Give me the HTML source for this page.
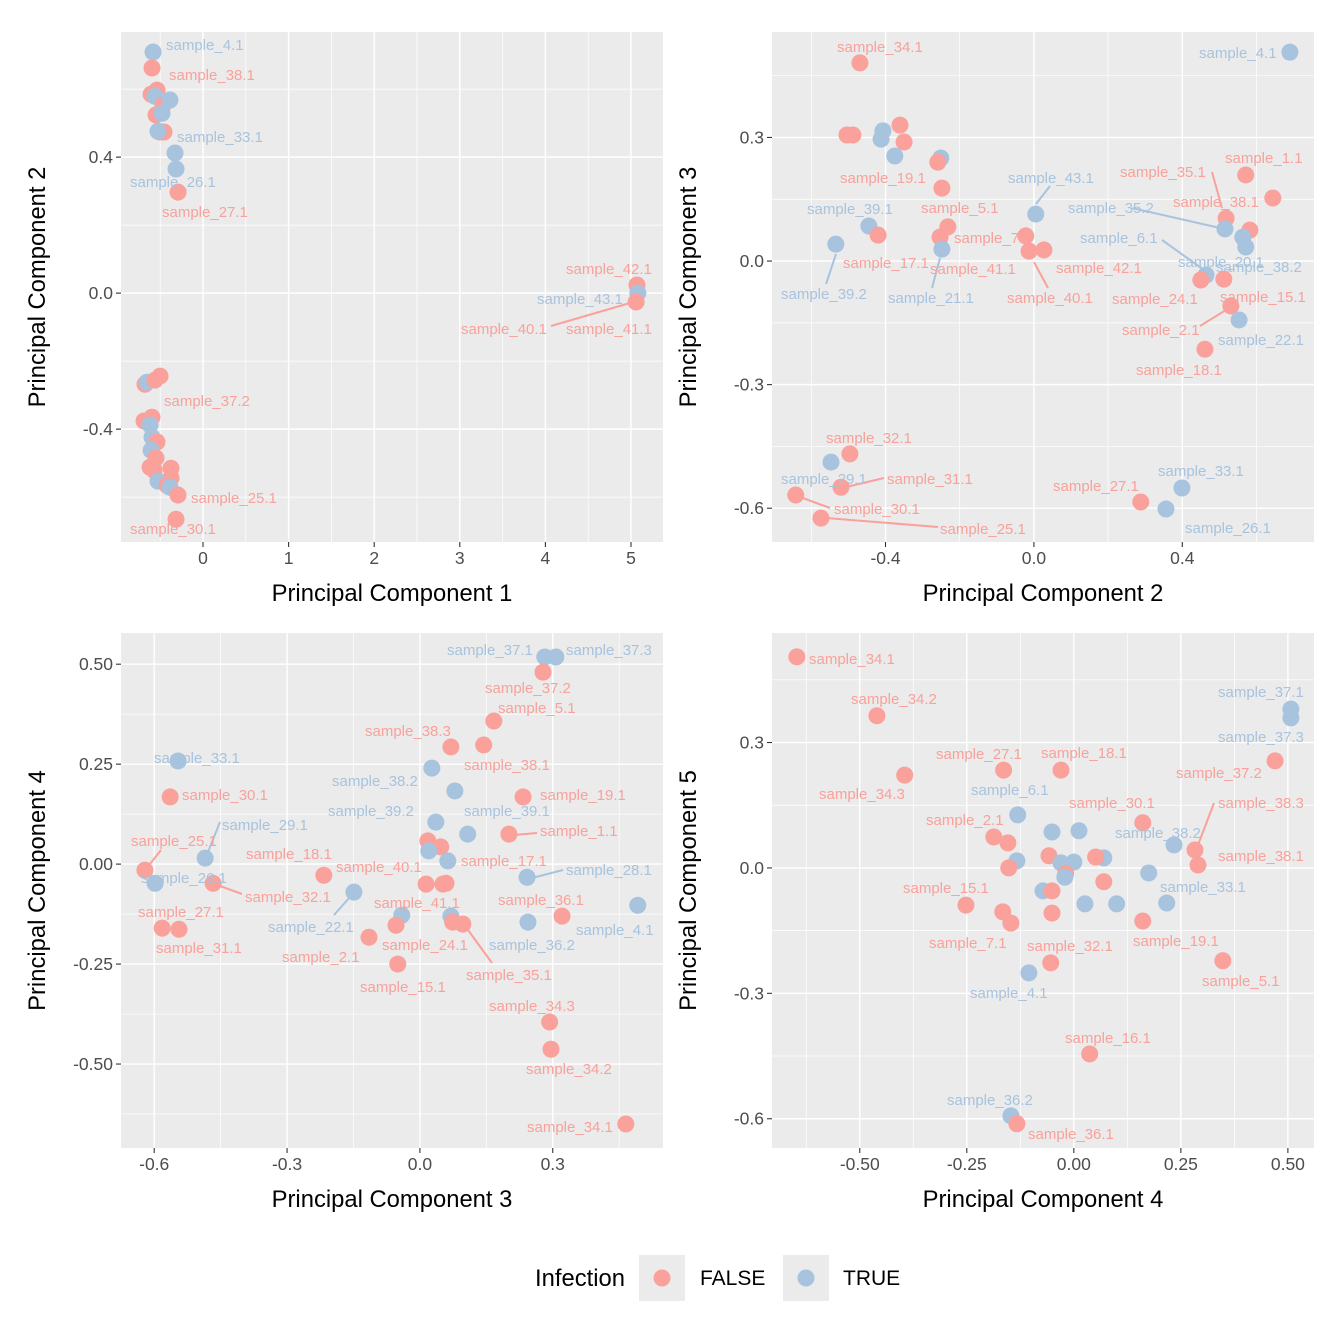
<!DOCTYPE html>
<html><head><meta charset="utf-8">
<style>
body{margin:0;background:#fff;}
svg{display:block;font-family:"Liberation Sans",Arial,sans-serif;}
</style></head>
<body>
<svg id="chart" width="1344" height="1344" viewBox="0 0 1344 1344"></svg>
<script>
// ---------- DATA (F = infection FALSE, T = TRUE) ----------
const p1x=[-0.584,-0.596,-0.607,-0.537,-0.561,-0.467,-0.386,-0.549,-0.479,-0.502,-0.456,-0.526,-0.327,-0.315,-0.292,5.07,5.08,5.06,-0.678,-0.654,-0.561,-0.502,-0.689,-0.596,-0.619,-0.596,-0.537,-0.607,-0.549,-0.619,-0.572,-0.374,-0.374,-0.526,-0.421,-0.386,-0.292,-0.315];
const p1y=[0.709,0.662,0.585,0.597,0.579,0.553,0.568,0.524,0.529,0.474,0.474,0.476,0.412,0.365,0.297,0.024,0.0,-0.026,-0.268,-0.262,-0.256,-0.244,-0.376,-0.365,-0.388,-0.424,-0.438,-0.462,-0.485,-0.512,-0.521,-0.515,-0.544,-0.553,-0.565,-0.571,-0.594,-0.665];
const p1g=['T','F','F','F','T','F','T','F','T','F','F','T','T','T','F','F','T','F','F','T','F','F','F','F','T','T','F','T','F','F','F','F','F','T','F','T','F','F'];
const p1labels=[['sample_4.1',166,45,'T'],['sample_38.1',169,75,'F'],['sample_33.1',177,137,'T'],['sample_26.1',130,182,'T'],['sample_27.1',162,212,'F'],['sample_42.1',566,269,'F'],['sample_43.1',537,299,'T'],['sample_40.1',461,329,'F'],['sample_41.1',566,329,'F'],['sample_37.2',164,401,'F'],['sample_25.1',191,498,'F'],['sample_30.1',130,529,'F']];
const p1lines=[[551,326,630,303,'F']];

const p2x=[-0.469,0.690,-0.504,-0.488,-0.407,-0.412,-0.361,-0.350,-0.375,-0.251,-0.259,-0.248,-0.232,-0.253,-0.445,-0.420,-0.534,-0.248,0.005,-0.022,-0.013,0.027,0.571,0.644,0.518,0.515,0.582,0.563,0.571,0.464,0.450,0.512,0.531,0.553,0.461,-0.496,-0.547,-0.520,-0.642,-0.574,0.288,0.399,0.356];
const p2y=[0.481,0.507,0.306,0.306,0.316,0.296,0.330,0.289,0.255,0.250,0.240,0.177,0.083,0.058,0.085,0.063,0.041,0.029,0.114,0.061,0.024,0.027,0.209,0.153,0.104,0.078,0.075,0.058,0.034,-0.034,-0.046,-0.044,-0.109,-0.143,-0.214,-0.468,-0.488,-0.549,-0.568,-0.624,-0.585,-0.551,-0.602];
const p2g=['F','T','F','F','T','T','F','F','T','T','F','F','F','F','T','F','T','T','T','F','F','F','F','F','F','T','F','T','T','T','F','F','F','T','F','F','T','F','F','F','F','T','T'];
const p2labels=[['sample_34.1',837,47,'F'],['sample_4.1',1199,53,'T'],['sample_19.1',840,178,'F'],['sample_5.1',921,208,'F'],['sample_39.1',807,209,'T'],['sample_17.1',843,263,'F'],['sample_39.2',781,294,'T'],['sample_21.1',888,298,'T'],['sample_7.1',954,238,'F'],['sample_41.1',930,269,'F'],['sample_43.1',1008,178,'T'],['sample_42.1',1056,268,'F'],['sample_40.1',1007,298,'F'],['sample_1.1',1225,158,'F'],['sample_35.1',1120,172,'F'],['sample_38.1',1173,202,'F'],['sample_35.2',1068,208,'T'],['sample_6.1',1080,238,'T'],['sample_20.1',1178,262,'T'],['sample_38.2',1216,267,'T'],['sample_24.1',1112,299,'F'],['sample_15.1',1220,297,'F'],['sample_2.1',1122,330,'F'],['sample_22.1',1218,340,'T'],['sample_18.1',1136,370,'F'],['sample_32.1',826,438,'F'],['sample_29.1',781,479,'T'],['sample_31.1',887,479,'F'],['sample_30.1',834,509,'F'],['sample_25.1',940,529,'F'],['sample_27.1',1053,486,'F'],['sample_33.1',1158,471,'T'],['sample_26.1',1185,528,'T']];
const p2lines=[[826,284,836,254,'T'],[932,288,940,258,'T'],[1036,204,1050,186,'T'],[1048,288,1034,262,'F'],[1212,172,1222,208,'F'],[1132,208,1220,228,'T'],[1162,240,1204,270,'T'],[1200,326,1226,310,'F'],[884,478,842,488,'F'],[830,508,800,497,'F'],[938,527,826,518,'F']];

const p3x=[0.282,0.307,0.278,0.167,0.070,0.144,0.027,0.079,0.233,0.036,0.108,0.201,0.018,0.047,0.020,0.063,0.014,0.052,0.059,0.242,0.321,0.244,0.492,0.070,0.074,0.097,-0.041,-0.054,-0.115,-0.050,-0.149,-0.217,-0.546,-0.564,-0.485,-0.621,-0.598,-0.467,-0.582,-0.544,0.293,0.296,0.465];
const p3y=[0.518,0.518,0.480,0.358,0.293,0.298,0.240,0.183,0.168,0.105,0.075,0.075,0.058,0.043,0.033,0.008,-0.050,-0.050,-0.048,-0.033,-0.130,-0.145,-0.103,-0.130,-0.145,-0.150,-0.128,-0.153,-0.183,-0.250,-0.070,-0.028,0.258,0.168,0.015,-0.015,-0.048,-0.048,-0.160,-0.163,-0.395,-0.463,-0.650];
const p3g=['T','T','F','F','F','F','T','T','F','T','T','F','F','F','T','T','F','F','F','T','F','T','T','T','F','F','T','F','F','F','T','F','T','F','T','F','T','F','F','F','F','F','F'];
const p3labels=[['sample_37.1',447,650,'T'],['sample_37.3',566,650,'T'],['sample_37.2',485,688,'F'],['sample_5.1',498,708,'F'],['sample_38.3',365,731,'F'],['sample_38.1',464,765,'F'],['sample_38.2',332,781,'T'],['sample_39.1',464,811,'T'],['sample_19.1',540,795,'F'],['sample_39.2',328,811,'T'],['sample_1.1',540,831,'F'],['sample_17.1',461,861,'F'],['sample_40.1',336,867,'F'],['sample_41.1',374,903,'F'],['sample_28.1',566,870,'T'],['sample_36.1',498,900,'F'],['sample_36.2',489,945,'T'],['sample_4.1',576,930,'T'],['sample_35.1',466,975,'F'],['sample_24.1',382,945,'F'],['sample_2.1',282,957,'F'],['sample_15.1',360,987,'F'],['sample_22.1',268,927,'T'],['sample_18.1',246,854,'F'],['sample_33.1',154,758,'T'],['sample_30.1',182,795,'F'],['sample_29.1',222,825,'T'],['sample_25.1',131,841,'F'],['sample_26.1',141,878,'T'],['sample_32.1',245,897,'F'],['sample_27.1',138,912,'F'],['sample_31.1',156,948,'F'],['sample_34.3',489,1006,'F'],['sample_34.2',526,1069,'F'],['sample_34.1',527,1127,'F']];
const p3lines=[[537,833,514,835,'F'],[563,870,532,878,'T'],[492,963,468,930,'F'],[334,915,350,897,'T'],[220,822,208,852,'T'],[161,850,150,864,'F'],[242,894,220,886,'F']];

const p4x=[-0.647,-0.460,-0.395,0.507,0.507,0.470,-0.164,-0.030,-0.131,0.161,-0.187,-0.154,-0.051,0.012,0.234,0.283,0.290,0.070,0.051,-0.133,-0.152,-0.058,-0.030,0.0,-0.019,0.175,0.070,-0.021,-0.072,-0.051,-0.252,0.026,0.100,-0.166,-0.147,-0.051,0.217,0.161,-0.054,0.348,-0.105,0.037,-0.147,-0.133];
const p4y=[0.505,0.364,0.222,0.380,0.359,0.256,0.234,0.234,0.127,0.108,0.074,0.060,0.086,0.089,0.055,0.043,0.007,0.024,0.026,0.017,0.0,0.029,0.012,0.014,-0.014,-0.012,-0.033,-0.022,-0.055,-0.055,-0.089,-0.086,-0.086,-0.105,-0.132,-0.108,-0.084,-0.127,-0.227,-0.222,-0.251,-0.445,-0.593,-0.612];
const p4g=['F','F','F','T','T','F','F','F','T','F','F','F','T','T','T','F','F','T','F','T','F','F','T','T','F','T','F','T','T','F','F','T','T','F','F','F','T','F','F','F','T','F','T','F'];
const p4labels=[['sample_34.1',809,659,'F'],['sample_34.2',851,699,'F'],['sample_34.3',819,794,'F'],['sample_37.1',1218,692,'T'],['sample_37.3',1218,737,'T'],['sample_37.2',1176,773,'F'],['sample_38.3',1218,803,'F'],['sample_27.1',936,754,'F'],['sample_18.1',1041,753,'F'],['sample_6.1',971,790,'T'],['sample_30.1',1069,803,'F'],['sample_2.1',926,820,'F'],['sample_38.2',1115,833,'T'],['sample_38.1',1218,856,'F'],['sample_33.1',1160,887,'T'],['sample_15.1',903,888,'F'],['sample_7.1',929,943,'F'],['sample_19.1',1133,941,'F'],['sample_32.1',1027,946,'F'],['sample_5.1',1202,981,'F'],['sample_4.1',970,993,'T'],['sample_16.1',1065,1038,'F'],['sample_36.2',947,1100,'T'],['sample_36.1',1028,1134,'F']];
const p4lines=[[1214,803,1198,845,'F']];

const xt1=[0,1,2,3,4,5], yt1=[-0.4,0.0,0.4];
const xt2=[-0.4,0.0,0.4], yt2=[-0.6,-0.3,0.0,0.3];
const xt3=[-0.6,-0.3,0.0,0.3], yt3=[-0.5,-0.25,0,0.25,0.5];
const xt4=[-0.5,-0.25,0,0.25,0.5], yt4=[-0.6,-0.3,0.0,0.3];

// ---------- RENDER ----------
const NS='http://www.w3.org/2000/svg';
const svg=document.getElementById('chart');
const COL={F:'#F9A19A',T:'#A7C3DE'};
function mk(tag,attrs,parent){const e=document.createElementNS(NS,tag);for(const k in attrs)e.setAttribute(k,attrs[k]);(parent||svg).appendChild(e);return e;}
function fmt(v,dec){let s=v.toFixed(dec);if(v<0)s='-'+Math.abs(v).toFixed(dec);return s;}

function panel(cfg){
  const {id,L,R,T,B,xmin,xmax,ymin,ymax,xt,yt,xminor,yminor,xdec,ydec,xtitle,ytitle,xs,ys,gs,labels,lines}=cfg;
  const g=mk('g',{});
  
  
  const X=v=>L+(v-xmin)/(xmax-xmin)*(R-L);
  const Y=v=>B-(v-ymin)/(ymax-ymin)*(B-T);
  const bg=mk('rect',{x:L,y:T,width:R-L,height:B-T,fill:'#EBEBEB'},g);
  
  
  xminor.forEach(v=>mk('line',{x1:X(v),x2:X(v),y1:T,y2:B,stroke:'#fff','stroke-width':0.7},g));
  yminor.forEach(v=>mk('line',{x1:L,x2:R,y1:Y(v),y2:Y(v),stroke:'#fff','stroke-width':0.7},g));
  xt.forEach(v=>{
    mk('line',{x1:X(v),x2:X(v),y1:T,y2:B,stroke:'#fff','stroke-width':1.4},g);
    mk('line',{x1:X(v),x2:X(v),y1:B,y2:B+5,stroke:'#333','stroke-width':1.1},g);
    const t=mk('text',{x:X(v),y:B+22,'text-anchor':'middle','font-size':17.5,fill:'#4D4D4D'},g);
    t.textContent=xdec<0?String(v):fmt(v,xdec);
    
    
  });
  yt.forEach(v=>{
    mk('line',{x1:L,x2:R,y1:Y(v),y2:Y(v),stroke:'#fff','stroke-width':1.4},g);
    mk('line',{x1:L-5,x2:L,y1:Y(v),y2:Y(v),stroke:'#333','stroke-width':1.1},g);
    const t=mk('text',{x:L-8,y:Y(v)+6,'text-anchor':'end','font-size':17.5,fill:'#4D4D4D'},g);
    t.textContent=fmt(v,ydec);
    
    
  });
  lines.forEach(l=>{
    const e=mk('line',{x1:l[0],y1:l[1],x2:l[2],y2:l[3],stroke:COL[l[4]],'stroke-width':2},g);
    
    
  });
  xs.forEach((v,i)=>{
    const c=mk('circle',{cx:X(v),cy:Y(ys[i]),r:8.5,fill:COL[gs[i]]},g);
    
    
  });
  labels.forEach(l=>{
    const t=mk('text',{x:l[1],y:l[2]+5,'font-size':15,fill:COL[l[3]]},g);
    t.textContent=l[0];
    
    
  });
  const xtl=mk('text',{x:(L+R)/2,y:B+59,'text-anchor':'middle','font-size':23.8,fill:'#000'},g);
  xtl.textContent=xtitle;
  
  
  const cy=(T+B)/2, cx=L-76;
  const ytl=mk('text',{x:cx,y:cy,'text-anchor':'middle','font-size':23.8,fill:'#000',transform:`rotate(-90 ${cx} ${cy})`},g);
  ytl.textContent=ytitle;
  
  
}

panel({id:'panel-pc1-pc2',L:121,R:663,T:32,B:542,xmin:-0.958,xmax:5.374,ymin:-0.732,ymax:0.768,xt:xt1,yt:yt1,xminor:[-0.5,0.5,1.5,2.5,3.5,4.5],yminor:[-0.6,-0.2,0.2,0.6],xdec:-1,ydec:1,xtitle:'Principal Component 1',ytitle:'Principal Component 2',xs:p1x,ys:p1y,gs:p1g,labels:p1labels,lines:p1lines});
panel({id:'panel-pc2-pc3',L:772,R:1314,T:32,B:542,xmin:-0.706,xmax:0.755,ymin:-0.682,ymax:0.556,xt:xt2,yt:yt2,xminor:[-0.6,-0.2,0.2,0.6],yminor:[-0.45,-0.15,0.15,0.45],xdec:1,ydec:1,xtitle:'Principal Component 2',ytitle:'Principal Component 3',xs:p2x,ys:p2y,gs:p2g,labels:p2labels,lines:p2lines});
panel({id:'panel-pc3-pc4',L:121,R:663,T:633,B:1148,xmin:-0.675,xmax:0.549,ymin:-0.71,ymax:0.578,xt:xt3,yt:yt3,xminor:[-0.45,-0.15,0.15,0.45],yminor:[-0.625,-0.375,-0.125,0.125,0.375],xdec:1,ydec:2,xtitle:'Principal Component 3',ytitle:'Principal Component 4',xs:p3x,ys:p3y,gs:p3g,labels:p3labels,lines:p3lines});
panel({id:'panel-pc4-pc5',L:772,R:1314,T:633,B:1148,xmin:-0.705,xmax:0.561,ymin:-0.670,ymax:0.562,xt:xt4,yt:yt4,xminor:[-0.625,-0.375,-0.125,0.125,0.375],yminor:[-0.45,-0.15,0.15,0.45],xdec:2,ydec:1,xtitle:'Principal Component 4',ytitle:'Principal Component 5',xs:p4x,ys:p4y,gs:p4g,labels:p4labels,lines:p4lines});

// legend
const lg=mk('g',{});


const lt=mk('text',{x:535,y:1286,'font-size':23.8,fill:'#000'},lg);
lt.textContent='Infection';


[['F','FALSE',639,700],['T','TRUE',783,843]].forEach(e=>{
  const gg=mk('g',{},lg);
  
  
  mk('rect',{x:e[2],y:1255,width:46,height:46,fill:'#EBEBEB'},gg);
  mk('circle',{cx:e[2]+23,cy:1278,r:8.5,fill:COL[e[0]]},gg);
  const t=mk('text',{x:e[3],y:1285,'font-size':21,fill:'#000'},gg);
  t.textContent=e[1];
});
</script>
</body></html>
